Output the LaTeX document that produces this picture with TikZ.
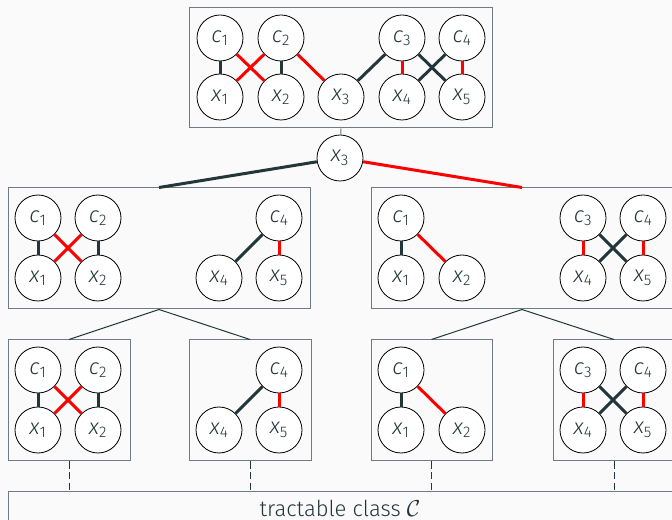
\documentclass[tikz,border=0pt]{standalone}
\usepackage{fontspec}
\setmainfont{Fira Sans}[UprightFont=* Light, ItalicFont=* Light Italic]
\definecolor{mdark}{HTML}{23373B}
\definecolor{mbg}{HTML}{FAFAFA}
\definecolor{mred}{HTML}{FF0000}
\definecolor{mgray}{HTML}{6D7C7F}
\newcommand\lab[2]{\textit{#1}\textsubscript{#2}}
\newcommand\vn[4]{\node[vx] (#1) at (#2,#3) {\lab#4};}
\begin{document}
\begin{tikzpicture}[x=0.75pt,y=-0.75pt,
  vx/.style={circle,draw=black,line width=0.6pt,fill=white,minimum size=34.5pt,inner sep=0pt,text=mdark,font=\fontsize{16.5}{18}\selectfont},
  grp/.style={draw=mgray,line width=0.75pt,fill=mbg,inner sep=0pt},
  pe/.style={line width=2.25pt,draw=mdark},
  ne/.style={line width=2.25pt,draw=mred},
  tl/.style={line width=0.75pt,draw=mdark},
  dl/.style={line width=0.75pt,draw=mdark,dash pattern=on 5.5pt off 2.5pt}]
\useasboundingbox (0,0) rectangle (672,520);
\clip (0,0) rectangle (672,520);
\fill[mbg] (0,0) rectangle (672,520);
% boxes
\node[grp,minimum width=227.25pt,minimum height=90pt] (T) at (341,68) {};
\node[grp,minimum width=226.5pt,minimum height=90.75pt] (A) at (159,248.5) {};
\node[grp,minimum width=226.5pt,minimum height=90.75pt] (B) at (522,248.5) {};
\node[grp,minimum width=91.5pt,minimum height=90.75pt] (C) at (69,400.5) {};
\node[grp,minimum width=91.5pt,minimum height=90.75pt] (D) at (250,400.5) {};
\node[grp,minimum width=90.75pt,minimum height=90.75pt] (E) at (431.5,400.5) {};
\node[grp,minimum width=91.5pt,minimum height=90.75pt] (F) at (614,400.5) {};
\node[grp,minimum width=498pt,minimum height=30pt,text=mdark,font=\fontsize{16.5}{18}\selectfont] (K) at (340,512) {\raisebox{6pt}{tractable class $\mathcal{C}$}};
% top graph
\vn{Tc1}{220}{38}{c1}
\vn{Tc2}{281}{38}{c2}
\vn{Tc3}{402}{38}{c3}
\vn{Tc4}{462}{38}{c4}
\vn{Tx1}{220}{97}{x1}
\vn{Tx2}{281}{97}{x2}
\vn{Tx3}{341}{97}{x3}
\vn{Tx4}{402}{97}{x4}
\vn{Tx5}{462}{97}{x5}
\draw[pe] (Tc1)--(Tx1); \draw[pe] (Tc2)--(Tx2);
\draw[ne] (Tc1)--(Tx2); \draw[ne] (Tc2)--(Tx1);
\draw[ne] (Tc2)--(Tx3); \draw[pe] (Tc3)--(Tx3);
\draw[ne] (Tc3)--(Tx4); \draw[ne] (Tc4)--(Tx5);
\draw[pe] (Tc3)--(Tx5); \draw[pe] (Tc4)--(Tx4);
% split variable
\vn{S}{340}{158}{x3}
\draw[line width=0.75pt,draw=mgray] (T.south) -- (S);
\draw[pe] (S) -- (A.north);
\draw[ne] (S) -- (B.north);
% A
\vn{Ac1}{38}{218}{c1}
\vn{Ac2}{98}{218}{c2}
\vn{Ac4}{279}{218}{c4}
\vn{Ax1}{38}{278}{x1}
\vn{Ax2}{98}{278}{x2}
\vn{Ax4}{219}{278}{x4}
\vn{Ax5}{279}{278}{x5}
\draw[pe] (Ac1)--(Ax1); \draw[pe] (Ac2)--(Ax2);
\draw[ne] (Ac1)--(Ax2); \draw[ne] (Ac2)--(Ax1);
\draw[pe] (Ac4)--(Ax4); \draw[ne] (Ac4)--(Ax5);
% B
\vn{Bc1}{401}{218}{c1}
\vn{Bc3}{583}{218}{c3}
\vn{Bc4}{643}{218}{c4}
\vn{Bx1}{401}{278}{x1}
\vn{Bx2}{462}{278}{x2}
\vn{Bx4}{583}{278}{x4}
\vn{Bx5}{643}{278}{x5}
\draw[pe] (Bc1)--(Bx1); \draw[ne] (Bc1)--(Bx2);
\draw[ne] (Bc3)--(Bx4); \draw[ne] (Bc4)--(Bx5);
\draw[pe] (Bc3)--(Bx5); \draw[pe] (Bc4)--(Bx4);
% level 3 connectors
\draw[tl] (A.south) -- (C.north);
\draw[tl] (A.south) -- (D.north);
\draw[tl] (B.south) -- (E.north);
\draw[tl] (B.south) -- (F.north);
% C
\vn{Cc1}{38}{370}{c1}
\vn{Cc2}{98}{370}{c2}
\vn{Cx1}{38}{430}{x1}
\vn{Cx2}{98}{430}{x2}
\draw[pe] (Cc1)--(Cx1); \draw[pe] (Cc2)--(Cx2);
\draw[ne] (Cc1)--(Cx2); \draw[ne] (Cc2)--(Cx1);
% D
\vn{Dc4}{279}{370}{c4}
\vn{Dx4}{219}{430}{x4}
\vn{Dx5}{279}{430}{x5}
\draw[pe] (Dc4)--(Dx4); \draw[ne] (Dc4)--(Dx5);
% E
\vn{Ec1}{401}{370}{c1}
\vn{Ex1}{401}{430}{x1}
\vn{Ex2}{462}{430}{x2}
\draw[pe] (Ec1)--(Ex1); \draw[ne] (Ec1)--(Ex2);
% F
\vn{Fc3}{583}{370}{c3}
\vn{Fc4}{643}{370}{c4}
\vn{Fx4}{583}{430}{x4}
\vn{Fx5}{643}{430}{x5}
\draw[ne] (Fc3)--(Fx4); \draw[ne] (Fc4)--(Fx5);
\draw[pe] (Fc3)--(Fx5); \draw[pe] (Fc4)--(Fx4);
% dashed links to class
\foreach \b in {C,D,E,F} \draw[dl] (\b.south) -- (\b.south |- K.north);
\end{tikzpicture}
\end{document}
